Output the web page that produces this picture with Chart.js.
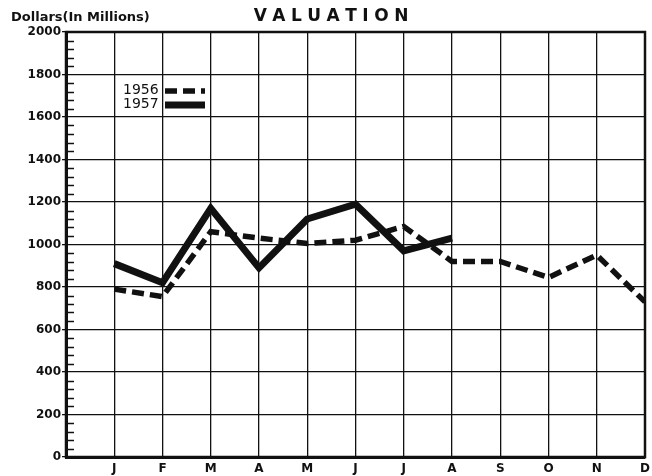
<!DOCTYPE html>
<html>
<head>
<meta charset="utf-8">
<title>Valuation</title>
<script src="https://cdn.jsdelivr.net/npm/chart.js@4.4.0/dist/chart.umd.min.js"></script>
<style>
    html, body { margin: 0; padding: 0; background: #fff; }
    #wrap { width: 652px; height: 476px; }
</style>
</head>
<body>
<div id="wrap"><canvas id="valuationChart"></canvas></div>
<script>
// Monthly valuation, dollars in millions
const months = ['J', 'F', 'M', 'A', 'M', 'J', 'J', 'A', 'S', 'O', 'N', 'D'];
const values1956 = [790, 755, 1060, 1030, 1005, 1020, 1085, 920, 920, 845, 950, 730];
const values1957 = [910, 820, 1170, 890, 1120, 1190, 970, 1030];

const chartTitle = 'VALUATION';
const yAxisLabel = 'Dollars(In Millions)';

const INK = '#111';

// month index 1..12 on a linear axis, so the left edge sits one step before J
function toPoints(values) {
    return values.map((v, i) => ({ x: i + 1, y: v }));
}

const decorations = {
    id: 'decorations',
    afterDraw(chart) {
        const ctx = chart.ctx;
        const area = chart.chartArea;
        const yScale = chart.scales.y;
        ctx.save();

        // heavy frame around the plot
        ctx.strokeStyle = INK;
        ctx.lineWidth = 2.5;
        ctx.strokeRect(area.left, area.top, area.right - area.left, area.bottom - area.top);

        // minor ticks every 40 along the left axis
        ctx.lineWidth = 1.6;
        ctx.beginPath();
        for (let v = 40; v < 2000; v += 40) {
            if (v % 200 === 0) continue;
            const y = Math.round(yScale.getPixelForValue(v)) + 0.5;
            ctx.moveTo(area.left, y);
            ctx.lineTo(area.left + 8, y);
        }
        ctx.stroke();

        // spaced-out title
        ctx.fillStyle = INK;
        ctx.font = 'bold 17px "DejaVu Sans"';
        ctx.textBaseline = 'middle';
        ctx.textAlign = 'left';
        const spacing = 5.5;
        let total = 0;
        for (const ch of chartTitle) total += ctx.measureText(ch).width + spacing;
        total -= spacing;
        let tx = 331 - total / 2;
        for (const ch of chartTitle) {
            ctx.fillText(ch, tx, 17);
            tx += ctx.measureText(ch).width + spacing;
        }

        // axis caption above the value labels
        ctx.font = 'bold 13px "DejaVu Sans"';
        ctx.fillText(yAxisLabel, 11, 18);

        // legend inside the plot
        ctx.font = '14px "DejaVu Sans"';
        const rows = [
            { ds: chart.data.datasets[0], y: 90 },
            { ds: chart.data.datasets[1], y: 104 }
        ];
        rows.forEach(r => {
            ctx.fillStyle = INK;
            ctx.fillText(r.ds.label, 123, r.y);
            ctx.strokeStyle = r.ds.borderColor;
            ctx.lineWidth = r.ds.borderWidth;
            ctx.setLineDash(r.ds.borderDash || []);
            ctx.beginPath();
            ctx.moveTo(165, r.y + 1);
            ctx.lineTo(205, r.y + 1);
            ctx.stroke();
            ctx.setLineDash([]);
        });

        ctx.restore();
    }
};

new Chart(document.getElementById('valuationChart'), {
    type: 'line',
    data: {
        datasets: [
            {
                label: '1956',
                data: toPoints(values1956),
                borderColor: INK,
                borderWidth: 5.5,
                borderDash: [12, 6],
                pointRadius: 0,
                tension: 0,
                fill: false
            },
            {
                label: '1957',
                data: toPoints(values1957),
                borderColor: INK,
                borderWidth: 7,
                pointRadius: 0,
                tension: 0,
                fill: false
            }
        ]
    },
    options: {
        responsive: true,
        maintainAspectRatio: false,
        devicePixelRatio: 1,
        animation: false,
        layout: {
            padding: { top: 32, right: 7, left: 0, bottom: 0 }
        },
        scales: {
            x: {
                type: 'linear',
                min: 0,
                max: 12,
                ticks: {
                    stepSize: 1,
                    padding: 5,
                    color: INK,
                    font: { family: 'DejaVu Sans', size: 12, weight: 'bold' },
                    maxRotation: 0,
                    autoSkip: false,
                    callback: v => (v >= 1 ? months[v - 1] : '')
                },
                grid: {
                    color: INK,
                    lineWidth: 1.3,
                    drawTicks: false
                },
                border: { display: true, color: INK, width: 3 },
                afterFit(scale) {
                    scale.height = 19;
                    // let the last month label hang past the frame
                    scale.paddingRight = 0;
                    scale.paddingLeft = 0;
                }
            },
            y: {
                min: 0,
                max: 2000,
                ticks: {
                    stepSize: 200,
                    padding: 1,
                    color: INK,
                    font: { family: 'DejaVu Sans', size: 12, weight: 'bold' },
                    callback: v => String(v)
                },
                grid: {
                    color: INK,
                    lineWidth: 1.3,
                    tickLength: 4
                },
                border: { display: true, color: INK, width: 3 },
                afterFit(scale) { scale.width = 66; }
            }
        },
        plugins: {
            legend: { display: false },
            tooltip: { enabled: false },
            title: { display: false }
        }
    },
    plugins: [decorations]
});
</script>
</body>
</html>
